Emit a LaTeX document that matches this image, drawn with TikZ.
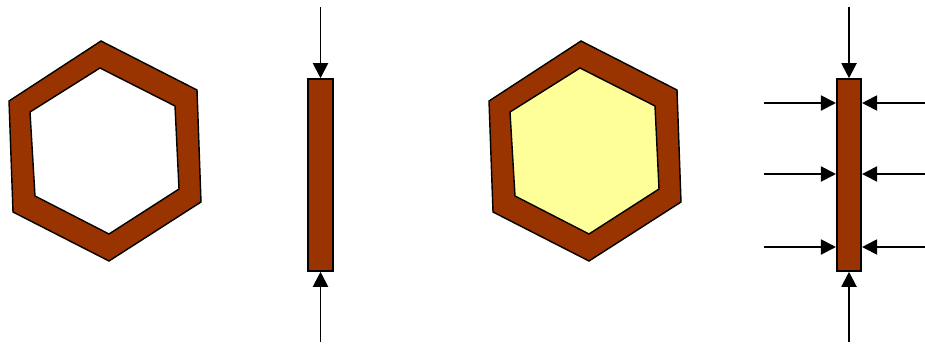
\documentclass[tikz,border=0pt]{standalone}
\usepackage{tikz}
\usetikzlibrary{arrows.meta,positioning}
\definecolor{shellbrown}{RGB}{153,51,0}
\definecolor{coreyellow}{RGB}{255,255,153}
\tikzset{
  shell/.style={
    draw=black,
    fill=shellbrown,
    line width=0.8pt,
    line join=miter
  },
  hollow/.style={
    shell,
    fill=white
  },
  filled/.style={
    shell,
    fill=coreyellow
  },
  rod/.style={
    rectangle,
    draw=black,
    fill=shellbrown,
    line width=0.9pt,
    inner sep=0pt,
    minimum width=4.9mm,
    minimum height=38.4mm
  },
  force/.style={
    -{Triangle[length=3mm,width=3mm]},
    line width=1.1pt,
    draw=black
  }
}

\begin{document}
\begin{tikzpicture}[x=0.02cm, y=-0.02cm]
  \useasboundingbox (0,0) rectangle (925,345);

  % empty tube
  \draw[shell] (101,41) -- (197,90) -- (201,202) -- (109,261) -- (13,212) -- (9,101) -- cycle;
  \draw[hollow] (100,68) -- (175,106) -- (179,189) -- (109,234) -- (35,196) -- (30,112) -- cycle;

  % filled tube
  \draw[shell] (581,41) -- (677,90) -- (681,202) -- (589,261) -- (493,212) -- (489,101) -- cycle;
  \draw[filled] (580,68) -- (655,106) -- (659,189) -- (589,234) -- (515,196) -- (510,112) -- cycle;

  % axial load only
  \node[rod] (rodA) at (320.5,175) {};
  \coordinate (topA) at (320.5,7);
  \coordinate (botA) at (320.5,342);
  \draw[force] (topA) -- (rodA.north);
  \draw[force] (botA) -- (rodA.south);

  % axial and lateral load
  \node[rod] (rodB) at (849,175) {};
  \coordinate (topB) at (849,7);
  \coordinate (botB) at (849,342);
  \draw[force] (topB) -- (rodB.north);
  \draw[force] (botB) -- (rodB.south);
  \foreach \y/\n in {103/1,174/2,247/3} {
    \coordinate (inL\n) at (764,\y);
    \coordinate (inR\n) at (925,\y);
    \draw[force] (inL\n) -- (rodB.west |- inL\n);
    \draw[force] (inR\n) -- (rodB.east |- inR\n);
  }
\end{tikzpicture}
\end{document}
